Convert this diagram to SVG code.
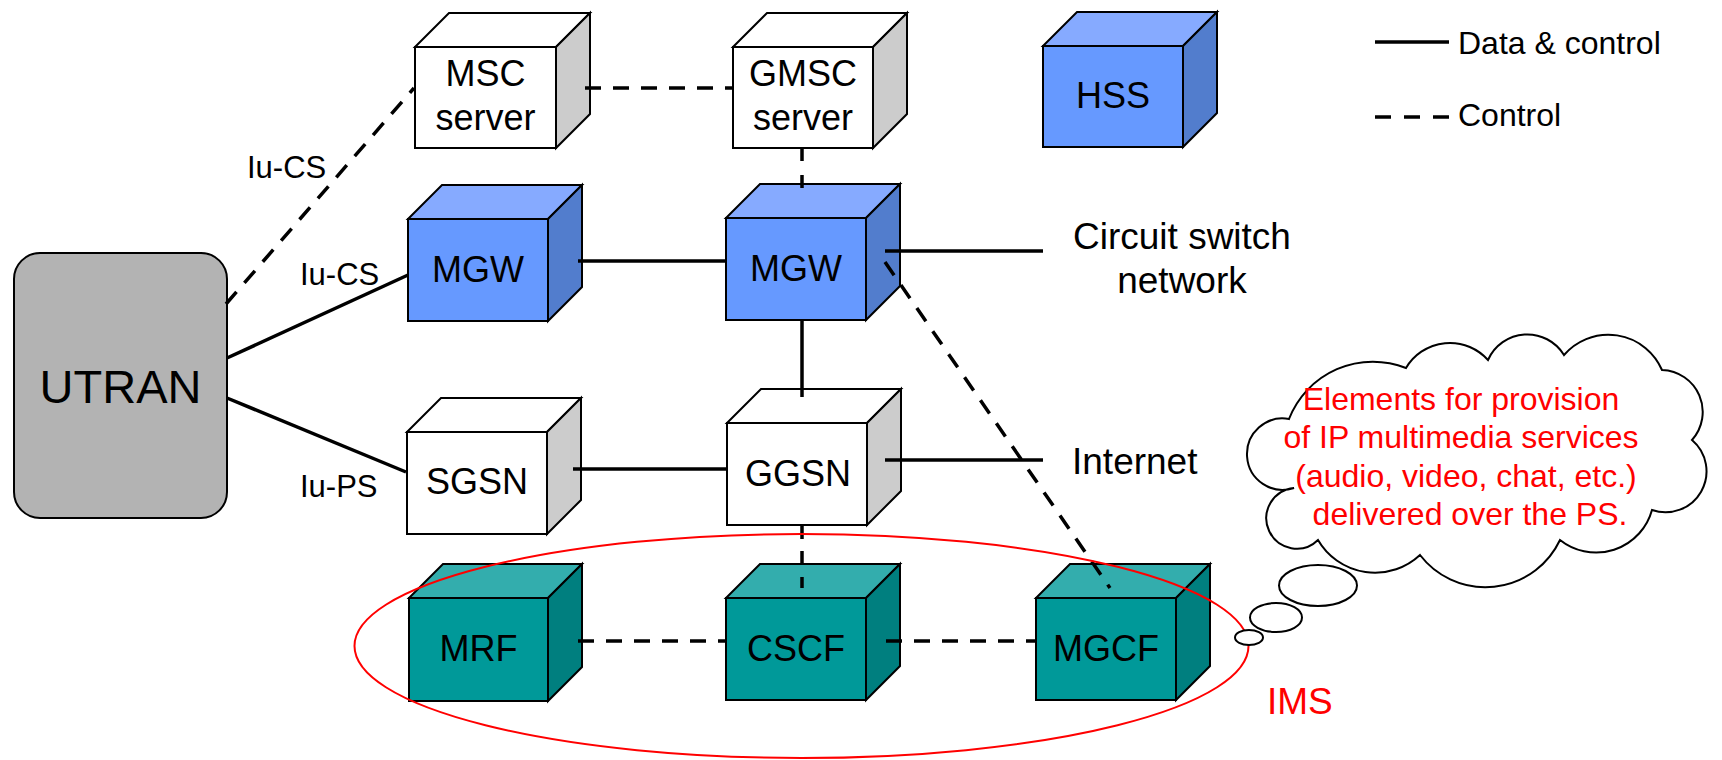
<svg xmlns="http://www.w3.org/2000/svg" width="1722" height="760" viewBox="0 0 1722 760">
<style>
text{font-family:"Liberation Sans",Arial,Helvetica,sans-serif;fill:#000}
.lbl{font-size:36px;text-anchor:middle}
.iu{font-size:31px}
.big{font-size:37px;text-anchor:middle}
.leg{font-size:32px}
.red{fill:#ff0000}
.cloudtxt{font-size:32px;text-anchor:middle;fill:#ff0000}
.edge{stroke:#000;stroke-width:2;stroke-linejoin:miter}
.wf{fill:#ffffff}.wt{fill:#ffffff}.ws{fill:#cccccc}
.bf{fill:#6699ff}.bt{fill:#86aaff}.bs{fill:#527dcd}
.tf{fill:#009999}.tt{fill:#33adad}.ts{fill:#007f7f}
.solid{stroke:#000;stroke-width:3.5;fill:none}
.dash{stroke:#000;stroke-width:3.5;fill:none;stroke-dasharray:16 12}
</style>

<g id="utran">
<rect x="14" y="253" width="213" height="265" rx="26" ry="26" fill="#b3b3b3" stroke="#000" stroke-width="2"/>
<text x="120.5" y="403" style="font-size:47px;text-anchor:middle">UTRAN</text>
</g>

<g id="msc-server">
<rect class="edge wf" x="415" y="47" width="141" height="101"/>
<polygon class="edge wt" points="415,47 449,13 590,13 556,47"/>
<polygon class="edge ws" points="556,47 590,13 590,114 556,148"/>
<text class="lbl" x="485.5" y="86">MSC</text>
<text class="lbl" x="485.5" y="130">server</text>
</g>

<g id="gmsc-server">
<rect class="edge wf" x="733" y="47" width="140" height="101"/>
<polygon class="edge wt" points="733,47 767,13 907,13 873,47"/>
<polygon class="edge ws" points="873,47 907,13 907,114 873,148"/>
<text class="lbl" x="803" y="86">GMSC</text>
<text class="lbl" x="803" y="130">server</text>
</g>

<g id="hss">
<rect class="edge bf" x="1043" y="46" width="140" height="101"/>
<polygon class="edge bt" points="1043,46 1077,12 1217,12 1183,46"/>
<polygon class="edge bs" points="1183,46 1217,12 1217,113 1183,147"/>
<text class="lbl" x="1113" y="108">HSS</text>
</g>

<g id="mgw1">
<rect class="edge bf" x="408" y="219" width="140" height="102"/>
<polygon class="edge bt" points="408,219 442,185 582,185 548,219"/>
<polygon class="edge bs" points="548,219 582,185 582,287 548,321"/>
<text class="lbl" x="478" y="282">MGW</text>
</g>

<g id="mgw2">
<rect class="edge bf" x="726" y="218" width="140" height="102"/>
<polygon class="edge bt" points="726,218 760,184 900,184 866,218"/>
<polygon class="edge bs" points="866,218 900,184 900,286 866,320"/>
<text class="lbl" x="796" y="281">MGW</text>
</g>

<g id="sgsn">
<rect class="edge wf" x="407" y="432" width="140" height="102"/>
<polygon class="edge wt" points="407,432 441,398 581,398 547,432"/>
<polygon class="edge ws" points="547,432 581,398 581,500 547,534"/>
<text class="lbl" x="477" y="494">SGSN</text>
</g>

<g id="ggsn">
<rect class="edge wf" x="727" y="423" width="140" height="102"/>
<polygon class="edge wt" points="727,423 761,389 901,389 867,423"/>
<polygon class="edge ws" points="867,423 901,389 901,491 867,525"/>
<text class="lbl" x="798" y="486">GGSN</text>
</g>

<g id="mrf">
<rect class="edge tf" x="409" y="598" width="139" height="103"/>
<polygon class="edge tt" points="409,598 443,564 582,564 548,598"/>
<polygon class="edge ts" points="548,598 582,564 582,667 548,701"/>
<text class="lbl" x="478.5" y="661">MRF</text>
</g>

<g id="cscf">
<rect class="edge tf" x="726" y="598" width="140" height="102"/>
<polygon class="edge tt" points="726,598 760,564 900,564 866,598"/>
<polygon class="edge ts" points="866,598 900,564 900,666 866,700"/>
<text class="lbl" x="796" y="661">CSCF</text>
</g>

<g id="mgcf">
<rect class="edge tf" x="1036" y="598" width="140" height="102"/>
<polygon class="edge tt" points="1036,598 1070,564 1210,564 1176,598"/>
<polygon class="edge ts" points="1176,598 1210,564 1210,666 1176,700"/>
<text class="lbl" x="1106" y="661">MGCF</text>
</g>

<g id="connectors">
<line class="dash" x1="226" y1="304" x2="414" y2="88"/>
<line class="solid" x1="227" y1="358" x2="408" y2="275"/>
<line class="solid" x1="227" y1="398" x2="406" y2="472"/>
<line class="dash" x1="585" y1="88" x2="733" y2="88"/>
<line class="dash" x1="802" y1="147" x2="802" y2="188" style="stroke-dasharray:14 14"/>
<line class="solid" x1="578" y1="261" x2="726" y2="261"/>
<line class="solid" x1="885" y1="251" x2="1043" y2="251"/>
<line class="dash" x1="885" y1="262" x2="1110" y2="588"/>
<line class="solid" x1="802" y1="320" x2="802" y2="397"/>
<line class="solid" x1="573" y1="469" x2="727" y2="469"/>
<line class="solid" x1="885" y1="460" x2="1043" y2="460"/>
<line class="dash" x1="802" y1="525" x2="802" y2="588" style="stroke-dasharray:14 12"/>
<line class="dash" x1="578" y1="641" x2="726" y2="641"/>
<line class="dash" x1="886" y1="641" x2="1037" y2="641"/>
</g>

<g id="labels">
<text class="iu" x="247" y="178">Iu-CS</text>
<text class="iu" x="300" y="285">Iu-CS</text>
<text class="iu" x="300" y="497">Iu-PS</text>
<text class="big" x="1182" y="249">Circuit switch</text>
<text class="big" x="1182" y="293">network</text>
<text x="1072" y="474" style="font-size:37px">Internet</text>
</g>

<g id="ims">
<ellipse cx="801.5" cy="646" rx="447" ry="112" fill="none" stroke="#ff0000" stroke-width="2"/>
<text class="red" x="1267" y="714" style="font-size:37px">IMS</text>
</g>

<g id="legend">
<line class="solid" x1="1375" y1="42" x2="1449" y2="42"/>
<text class="leg" x="1458" y="54">Data &amp; control</text>
<line class="solid" x1="1375" y1="117" x2="1449" y2="117" style="stroke-dasharray:16 13"/>
<text class="leg" x="1458" y="126">Control</text>
</g>

<g id="cloud">
<path d="M1289,419 A90,90 0 0 1 1406,368 A51,51 0 0 1 1488,360 A43,43 0 0 1 1564,355 A58.5,58.5 0 0 1 1662,370 A42,42 0 0 1 1692,440 A41,41 0 0 1 1652,510 A58,58 0 0 1 1560,540 A82.5,82.5 0 0 1 1420,555 A66,66 0 0 1 1318,540 A30.4,30.4 0 1 1 1294,488 A35.7,35.7 0 1 1 1289,419 Z" fill="#fff" stroke="#000" stroke-width="2"/>
<ellipse cx="1318" cy="585.5" rx="39" ry="20.5" fill="#fff" stroke="#000" stroke-width="2"/>
<ellipse cx="1276" cy="617.5" rx="26" ry="14.5" fill="#fff" stroke="#000" stroke-width="2"/>
<ellipse cx="1249" cy="637.5" rx="14" ry="7.5" fill="#fff" stroke="#000" stroke-width="2"/>
<text class="cloudtxt" x="1461" y="410">Elements for provision</text>
<text class="cloudtxt" x="1461" y="448">of IP multimedia services</text>
<text class="cloudtxt" x="1466" y="487">(audio, video, chat, etc.)</text>
<text class="cloudtxt" x="1470" y="525">delivered over the PS.</text>
</g>
</svg>
